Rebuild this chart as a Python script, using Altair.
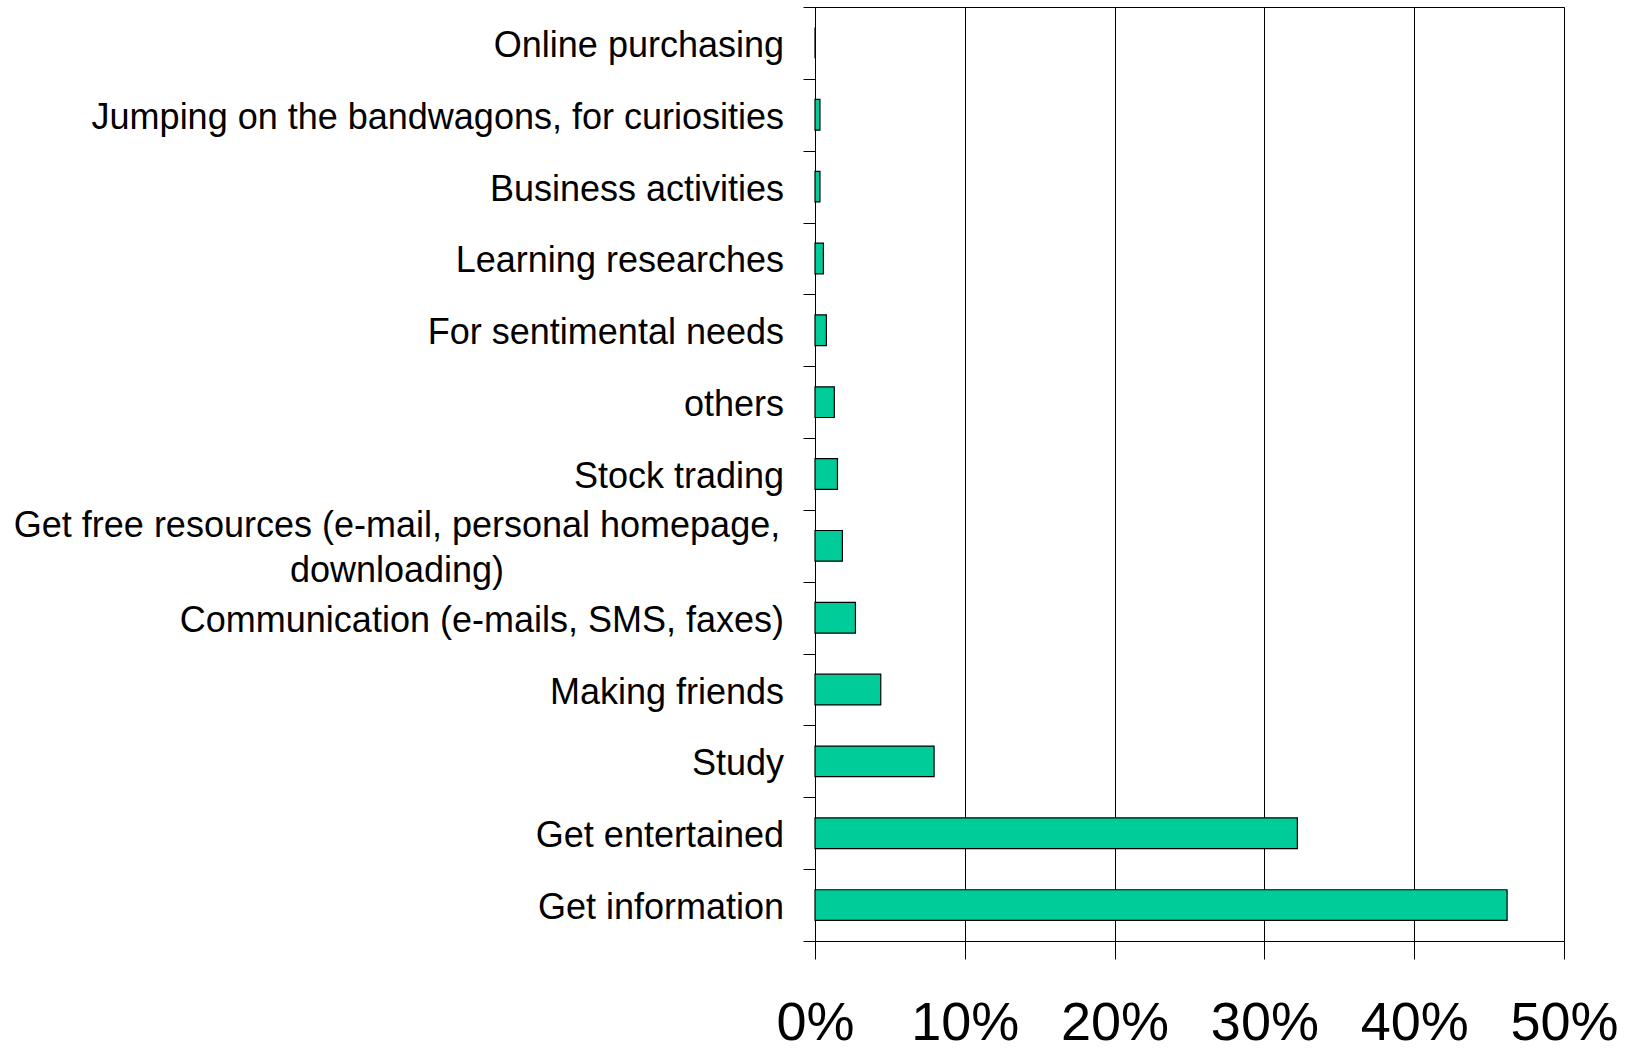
import altair as alt
import pandas as pd

NBSP = "\u00a0"
categories = [
    "Online purchasing" + NBSP,
    "Jumping on the bandwagons, for curiosities",
    "Business activities",
    "Learning researches" + NBSP,
    "For sentimental needs" + NBSP,
    "others",
    "Stock trading",
    "Get free resources (e-mail, personal homepage,|downloading)",
    "Communication (e-mails, SMS, faxes)",
    "Making friends",
    "Study",
    "Get entertained",
    "Get information",
]
values = [0.0, 0.33, 0.33, 0.56, 0.76, 1.29, 1.5, 1.83, 2.7, 4.39, 7.95, 32.2, 46.2]
x_ticks = [0, 10, 20, 30, 40, 50]

df = pd.DataFrame({"category": categories, "value": values})
df["multiline"] = df["category"].str.contains("|", regex=False)

FONT = "Liberation Sans, Arial, sans-serif"

y_enc = alt.Y(
    "category:N",
    sort=categories,
    scale=alt.Scale(paddingInner=0, paddingOuter=0),
    axis=alt.Axis(
        title=None,
        labels=False,
        tickBand="extent",
        tickSize=12,
        tickColor="black",
        tickWidth=1,
        domainColor="black",
        domainWidth=1,
        grid=False,
    ),
)

x_enc = alt.X(
    "value:Q",
    scale=alt.Scale(domain=[0, 50], nice=False, zero=True),
    axis=alt.Axis(
        values=x_ticks,
        labelExpr="datum.value + '%'",
        title=None,
        grid=True,
        gridColor="black",
        gridWidth=1,
        gridOpacity=1,
        domainColor="black",
        domainWidth=1,
        tickColor="black",
        tickSize=18,
        tickWidth=1,
        labelFont=FONT,
        labelFontSize=54,
        labelColor="black",
        labelPadding=37,
        labelFlush=False,
        labelOverlap=False,
    ),
)

bars = alt.Chart(df).mark_bar(
    color="#00CC99", stroke="black", strokeWidth=1.2,
    height={"band": 0.427},
).encode(x=x_enc, y=y_enc)

labels_single = alt.Chart(df).transform_filter(
    "!datum.multiline"
).mark_text(
    align="right", baseline="middle", font=FONT, fontSize=36, color="black",
    dy=3,
).encode(
    x=alt.value(-31),
    y=alt.Y("category:N", sort=categories),
    text="category:N",
)

labels_multi = alt.Chart(df).transform_filter(
    "datum.multiline"
).mark_text(
    align="center", baseline="middle", font=FONT, fontSize=36, color="black",
    lineBreak="|", lineHeight=45, dy=-20,
).encode(
    x=alt.value(-418),
    y=alt.Y("category:N", sort=categories),
    text="category:N",
)

chart = alt.layer(bars, labels_single, labels_multi).properties(
    width=749,
    height=934,
    autosize=alt.AutoSizeParams(type="none"),
    padding={"left": 815, "top": 7, "right": 70, "bottom": 109},
    background="white",
).configure_view(
    stroke="black", strokeWidth=1
)

chart.save("out.html", embed_options={"renderer": "svg", "actions": False})
